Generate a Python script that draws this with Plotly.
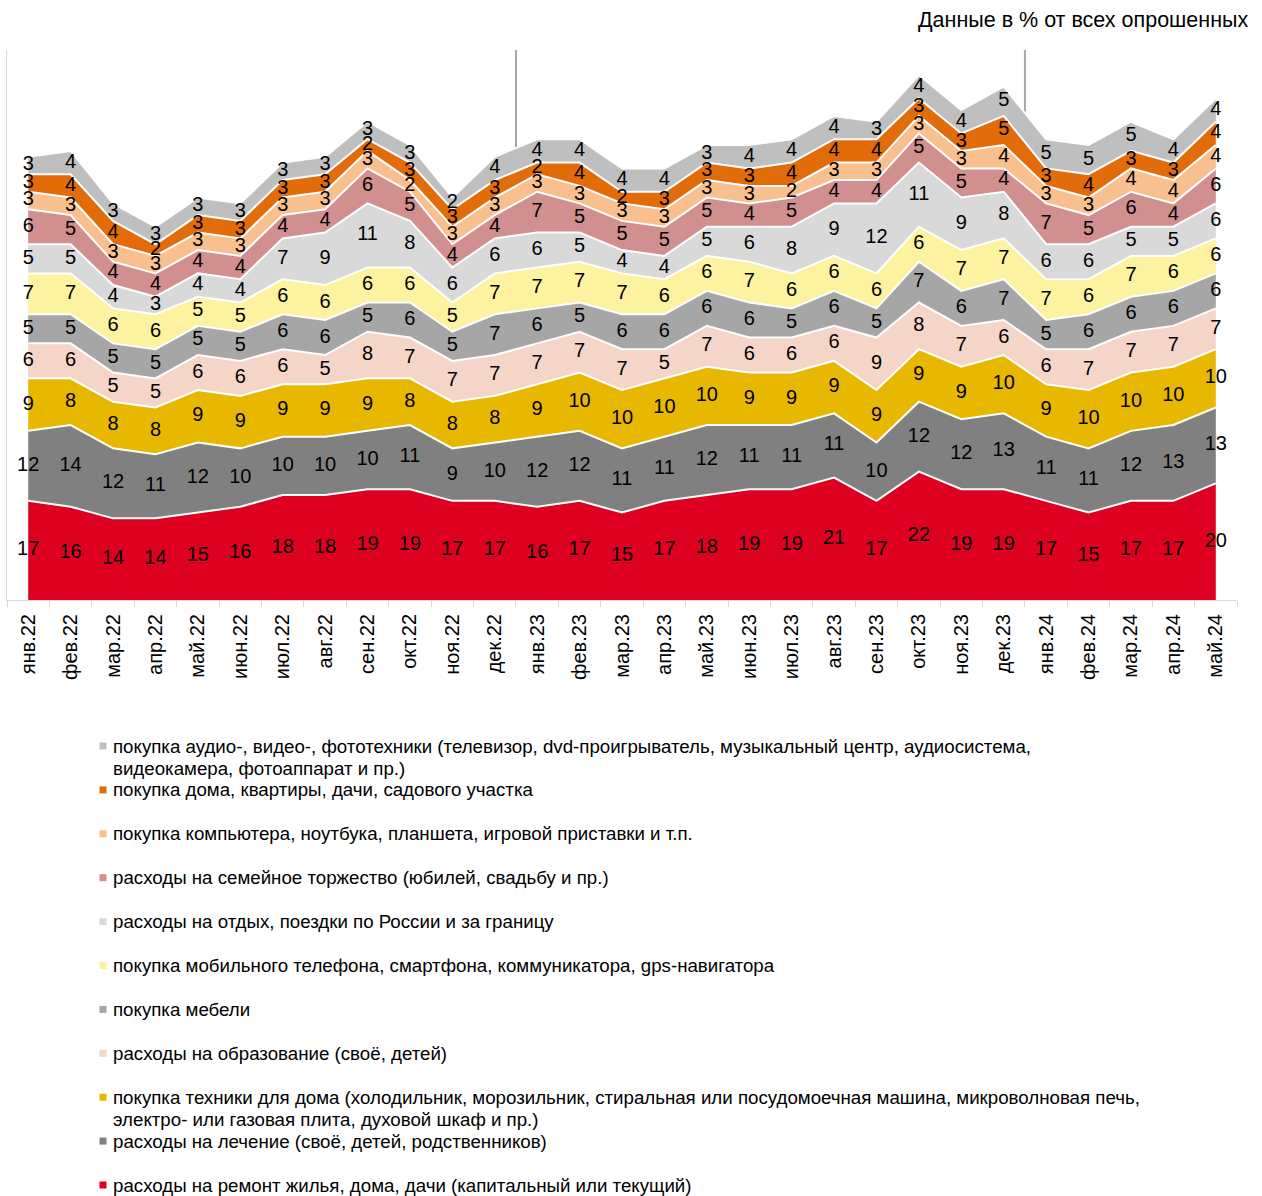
import plotly.graph_objects as go

months = ["янв.22", "фев.22", "мар.22", "апр.22", "май.22", "июн.22", "июл.22", "авг.22",
          "сен.22", "окт.22", "ноя.22", "дек.22", "янв.23", "фев.23", "мар.23", "апр.23",
          "май.23", "июн.23", "июл.23", "авг.23", "сен.23", "окт.23", "ноя.23", "дек.23",
          "янв.24", "фев.24", "мар.24", "апр.24", "май.24"]

# series, bottom to top
repair = [17, 16, 14, 14, 15, 16, 18, 18, 19, 19, 17, 17, 16, 17, 15, 17, 18, 19, 19, 21, 17, 22, 19, 19, 17, 15, 17, 17, 20]
medical = [12, 14, 12, 11, 12, 10, 10, 10, 10, 11, 9, 10, 12, 12, 11, 11, 12, 11, 11, 11, 10, 12, 12, 13, 11, 11, 12, 13, 13]
appliances = [9, 8, 8, 8, 9, 9, 9, 9, 9, 8, 8, 8, 9, 10, 10, 10, 10, 9, 9, 9, 9, 9, 9, 10, 9, 10, 10, 10, 10]
education = [6, 6, 5, 5, 6, 6, 6, 5, 8, 7, 7, 7, 7, 7, 7, 5, 7, 6, 6, 6, 9, 8, 7, 6, 6, 7, 7, 7, 7]
furniture = [5, 5, 5, 5, 5, 5, 6, 6, 5, 6, 5, 7, 6, 5, 6, 6, 6, 6, 5, 6, 5, 7, 6, 7, 5, 6, 6, 6, 6]
mobile = [7, 7, 6, 6, 5, 5, 6, 6, 6, 6, 5, 7, 7, 7, 7, 6, 6, 7, 6, 6, 6, 6, 7, 7, 7, 6, 7, 6, 6]
travel = [5, 5, 4, 3, 4, 4, 7, 9, 11, 8, 6, 6, 6, 5, 4, 4, 5, 6, 8, 9, 12, 11, 9, 8, 6, 6, 5, 5, 6]
family = [6, 5, 4, 4, 4, 4, 4, 4, 6, 5, 4, 4, 7, 5, 5, 5, 5, 4, 5, 4, 4, 5, 5, 4, 7, 5, 6, 4, 6]
computer = [3, 3, 3, 3, 3, 3, 3, 3, 3, 2, 3, 3, 3, 3, 3, 3, 3, 3, 2, 3, 3, 3, 3, 4, 3, 3, 4, 4, 4]
realty = [3, 4, 4, 2, 3, 3, 3, 3, 2, 3, 3, 3, 2, 4, 2, 3, 3, 3, 4, 4, 4, 3, 3, 5, 3, 4, 3, 3, 4]
audio = [3, 4, 3, 3, 3, 3, 3, 3, 3, 3, 2, 4, 4, 4, 4, 4, 3, 4, 4, 4, 3, 4, 4, 5, 5, 5, 5, 4, 4]

series_values = [repair, medical, appliances, education, furniture, mobile,
                 travel, family, computer, realty, audio]

series_names = [
    "расходы на ремонт жилья, дома, дачи (капитальный или текущий)",
    "расходы на лечение (своё, детей, родственников)",
    "покупка техники для дома (холодильник, морозильник, стиральная или посудомоечная машина, микроволновая печь,\nэлектро- или газовая плита, духовой шкаф и пр.)",
    "расходы на образование (своё, детей)",
    "покупка мебели",
    "покупка мобильного телефона, смартфона, коммуникатора, gps-навигатора",
    "расходы на отдых, поездки по России и за границу",
    "расходы на семейное торжество (юбилей, свадьбу и пр.)",
    "покупка компьютера, ноутбука, планшета, игровой приставки и т.п.",
    "покупка дома, квартиры, дачи, садового участка",
    "покупка аудио-, видео-, фототехники (телевизор, dvd-проигрыватель, музыкальный центр, аудиосистема,\nвидеокамера, фотоаппарат и пр.)",
]

series_colors = ["#DE0021", "#808080", "#E8B800", "#F5D5C8", "#A6A6A6", "#FCF29F",
                 "#D9D9D9", "#D28F8F", "#F9BF8E", "#E36C0A", "#BFBFBF"]

title_text = "Данные в % от всех опрошенных"
year_starts = ["янв.23", "янв.24"]

FONT = "Arial, Liberation Sans, sans-serif"
W, H = 1262, 1196
ML, MR, MT, MB = 7, 25, 50, 596
PW = W - ML - MR
PH = H - MT - MB


def px_x(px):
    return (px - ML) / PW


def px_y(py):
    return (H - MB - py) / PH


fig = go.Figure()

# stacked areas
for name, vals, col in zip(series_names, series_values, series_colors):
    fig.add_trace(go.Scatter(
        x=months, y=vals, stackgroup="one", mode="lines",
        line=dict(color="white", width=2),
        fillcolor=col, name=name.replace("\n", " "),
        showlegend=False, hoverinfo="x+y+name",
    ))

# data labels, centred inside each band
cum = [0] * len(months)
for vals in series_values:
    mids = [c + v / 2 for c, v in zip(cum, vals)]
    fig.add_trace(go.Scatter(
        x=months, y=mids, mode="text", text=[str(v) for v in vals],
        textposition="middle center",
        textfont=dict(family=FONT, size=20, color="black"),
        showlegend=False, hoverinfo="skip",
    ))
    cum = [c + v for c, v in zip(cum, vals)]

# year separators
shapes = []
for m in year_starts:
    xi = months.index(m) - 0.5
    shapes.append(dict(type="line", xref="x", yref="paper", x0=xi, x1=xi, y0=0, y1=1,
                       line=dict(color="#A6A6A6", width=2), layer="below"))

# custom legend (top series first)
annotations = []
leg_top = 746
leg_step = 43.9
line_step = 22
for i, idx in enumerate(range(len(series_names) - 1, -1, -1)):
    yc = leg_top + i * leg_step
    shapes.append(dict(type="rect", xref="paper", yref="paper",
                       xsizemode="pixel", ysizemode="pixel",
                       xanchor=px_x(103), yanchor=px_y(yc),
                       x0=-3.5, x1=3.5, y0=-3.5, y1=3.5,
                       fillcolor=series_colors[idx], line=dict(width=0)))
    for j, line in enumerate(series_names[idx].split("\n")):
        annotations.append(dict(
            xref="paper", yref="paper", x=px_x(111), y=px_y(yc + j * line_step),
            xanchor="left", yanchor="middle", showarrow=False, text=line,
            font=dict(family=FONT, size=18.7, color="black"), align="left",
        ))

annotations.append(dict(
    xref="paper", yref="paper", x=px_x(1250), y=px_y(20),
    xanchor="right", yanchor="middle", showarrow=False, text=title_text,
    font=dict(family=FONT, size=21.5, color="black"),
))

fig.update_layout(
    width=W, height=H, autosize=False,
    margin=dict(l=ML, r=MR, t=MT, b=MB, pad=0),
    paper_bgcolor="white", plot_bgcolor="white",
    showlegend=False,
    shapes=shapes, annotations=annotations,
    font=dict(family=FONT, color="black"),
    xaxis=dict(
        type="category", range=[-0.5, len(months) - 0.5],
        showline=True, linecolor="#D9D9D9", linewidth=1,
        ticks="outside", tickson="boundaries", ticklen=6, tickcolor="#D9D9D9",
        tickangle=-90, tickfont=dict(family=FONT, size=20, color="black"),
        ticklabelstandoff=5,
        showgrid=False, zeroline=False,
    ),
    yaxis=dict(
        range=[0, 94.3], showline=True, linecolor="#D9D9D9", linewidth=1,
        showticklabels=False, ticks="", showgrid=False, zeroline=False,
    ),
)

fig.write_html("out.html", config={"displayModeBar": False},
               post_script="document.body.style.margin='0px';")
